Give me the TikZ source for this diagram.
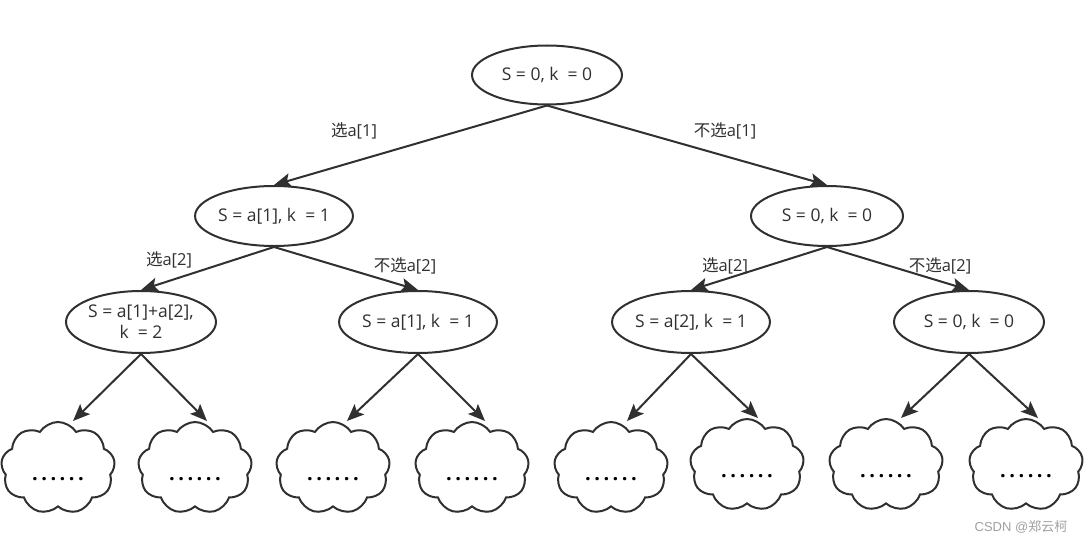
\documentclass[tikz,border=0pt]{standalone}
\usepackage{fontspec}
\setmainfont{Open Sans}
\newfontfamily\cjk{Noto Sans CJK SC}
\newfontfamily\arialf{Liberation Sans}
\usetikzlibrary{shapes.geometric,shapes.symbols,arrows.meta,calc}
\definecolor{ink}{HTML}{303030}
\definecolor{wm}{HTML}{A0A0A0}
\begin{document}
\begin{tikzpicture}[x=1pt,y=-1pt,
  oval/.style={draw=ink, line width=2pt, ellipse, minimum width=150pt, minimum height=59pt, inner sep=0pt, font=\fontsize{17.5}{21}\selectfont, text=ink, align=center},
  puff/.style={draw=ink, line width=2pt, cloud, cloud puffs=9, cloud puff arc=115, minimum width=114pt, minimum height=92pt, inner sep=0pt},
  edge/.style={draw=ink, line width=2pt, -{Stealth[length=17pt,width=14pt,inset=3.5pt]}},
  lab/.style={font=\fontsize{16.5}{19}\selectfont, text=ink, inner sep=0pt},
  dots/.style={font=\fontsize{20}{22}\selectfont\bfseries, text=black, inner sep=0pt}]
\useasboundingbox (0,0) rectangle (1086,543);
% tree nodes
\node[oval] (root) at (547,75) {S = 0, k~~= 0};
\node[oval, minimum width=152pt, minimum height=60pt] (l1a) at (274,216) {S = a[1], k~~= 1};
\node[oval, minimum width=152pt, minimum height=60pt] (l1b) at (827,216) {S = 0, k~~= 0};
\node[oval, minimum height=62pt, inner xsep=-10pt] (l2a) at (141,322) {S = a[1]+a[2],\\k~~= 2};
\node[oval, minimum height=62pt] (l2b) at (418,322) {S = a[1], k~~= 1};
\node[oval, minimum width=154pt, minimum height=62pt] (l2c) at (691,322) {S = a[2], k~~= 1};
\node[oval, minimum height=62pt] (l2d) at (969,322) {S = 0, k~~= 0};
% clouds
\node[puff] (c1) at (58,468) {};
\node[puff] (c2) at (195,468) {};
\node[puff] (c3) at (333,468) {};
\node[puff] (c4) at (472,468) {};
\node[puff] (c5) at (611,468) {};
\node[puff] (c6) at (747,465) {};
\node[puff] (c7) at (886,465) {};
\node[puff] (c8) at (1026,465) {};
\foreach \c in {c1,c2,c3,c4,c5,c6,c7,c8}{
  \node[dots] (d\c) at ($(\c)+(0,11)$) {.\hspace{3.5pt}.\hspace{3.5pt}.\hspace{3.5pt}.\hspace{3.5pt}.\hspace{3.5pt}.};
}
% edges
\draw[edge] (root.south) -- (l1a.north);
\draw[edge] (root.south) -- (l1b.north);
\draw[edge] (l1a.south) -- (l2a.north);
\draw[edge] (l1a.south) -- (l2b.north);
\draw[edge] (l1b.south) -- (l2c.north);
\draw[edge] (l1b.south) -- (l2d.north);
\draw[edge] (l2a.south) -- ($(c1.north)+(15,0)$);
\draw[edge] (l2a.south) -- ($(c2.north)+(12,0)$);
\draw[edge] (l2b.south) -- ($(c3.north)+(14,0)$);
\draw[edge] (l2b.south) -- ($(c4.north)+(13,0)$);
\draw[edge] (l2c.south) -- ($(c5.north)+(16,0)$);
\draw[edge] (l2c.south) -- ($(c6.north)+(11,0)$);
\draw[edge] (l2d.south) -- ($(c7.north)+(15,0)$);
\draw[edge] (l2d.south) -- ($(c8.north)+(12,0)$);
% edge labels
\node[lab] (e1) at (354,131) {{\cjk 选}a[1]};
\node[lab] (e2) at (725,131) {{\cjk 不选}a[1]};
\node[lab] (e3) at (169,260) {{\cjk 选}a[2]};
\node[lab] (e4) at (405,266) {{\cjk 不选}a[2]};
\node[lab] (e5) at (725,266) {{\cjk 选}a[2]};
\node[lab] (e6) at (940,266) {{\cjk 不选}a[2]};
% watermark
\node[inner sep=0pt, text=wm, font=\fontsize{13}{15}\selectfont] (wmk) at (1021,527) {\arialf CSDN @{\cjk 郑云柯}};
\end{tikzpicture}
\end{document}
